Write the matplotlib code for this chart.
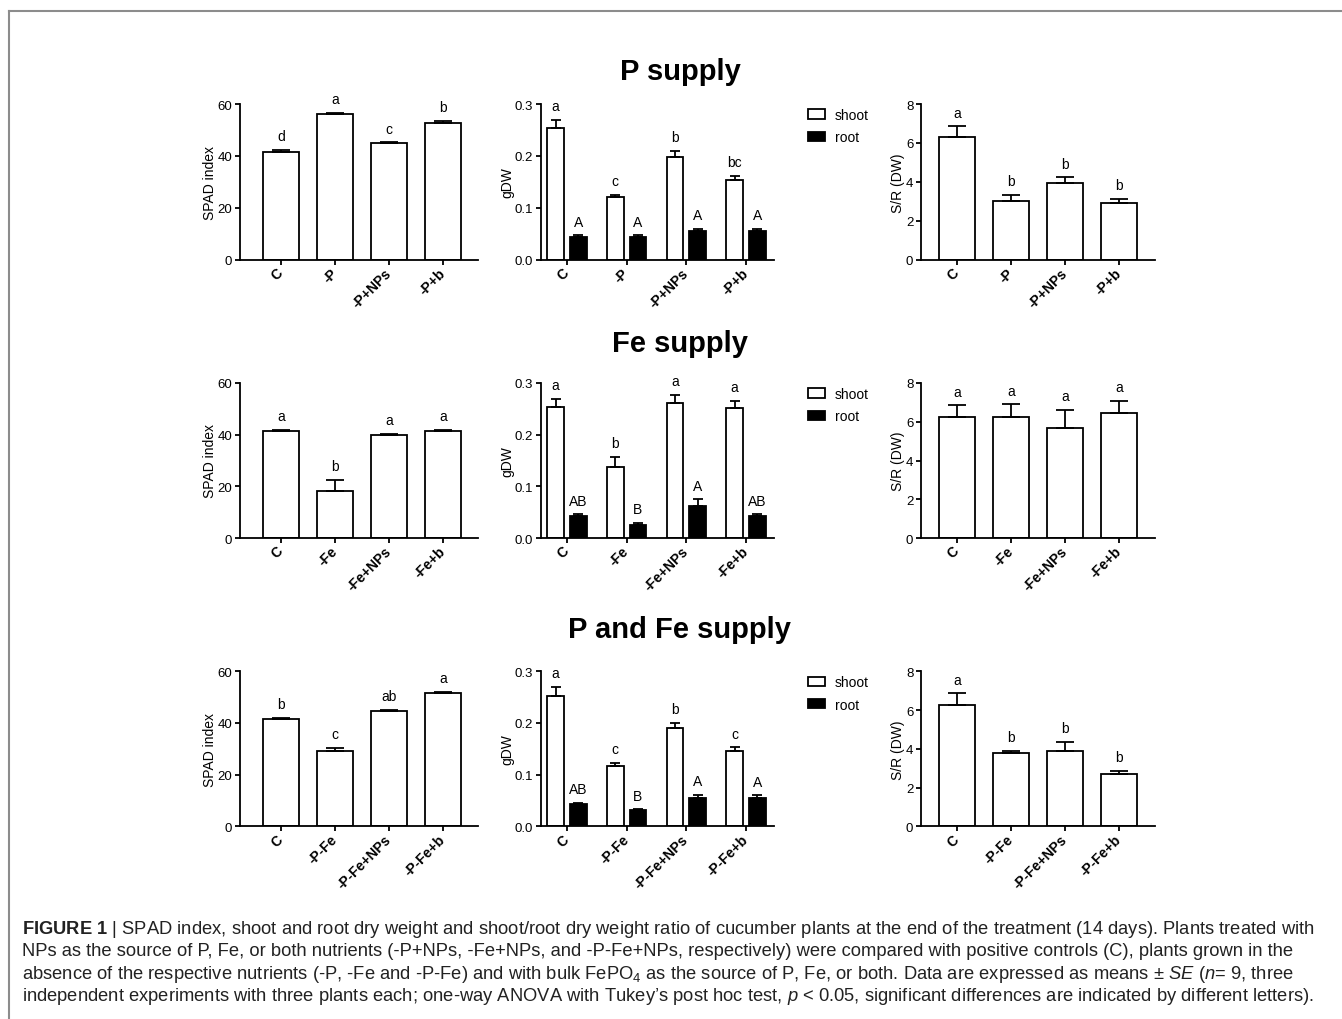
import numpy as np
import matplotlib
matplotlib.use('Agg')
import matplotlib.pyplot as plt
from matplotlib import font_manager
from matplotlib.lines import Line2D

# Treatments per row
labels_p = ['C', '-P', '-P+NPs', '-P+b']
labels_fe = ['C', '-Fe', '-Fe+NPs', '-Fe+b']
labels_pfe = ['C', '-P-Fe', '-P-Fe+NPs', '-P-Fe+b']

# SPAD index (mean, SE, letters)
spad_p = [41.6, 56.3, 44.9, 52.8]
spad_p_se = [0.6, 0.3, 0.3, 0.8]
spad_p_let = ['d', 'a', 'c', 'b']
spad_fe = [41.4, 18.3, 39.9, 41.4]
spad_fe_se = [0.5, 4.3, 0.5, 0.5]
spad_fe_let = ['a', 'b', 'a', 'a']
spad_pfe = [41.4, 29.0, 44.8, 51.6]
spad_pfe_se = [0.6, 1.4, 0.4, 0.4]
spad_pfe_let = ['b', 'c', 'ab', 'a']

# dry weight shoot / root (gDW)
shoot_p = [0.253, 0.120, 0.197, 0.154]
shoot_p_se = [0.017, 0.005, 0.013, 0.007]
root_p = [0.043, 0.043, 0.055, 0.055]
root_p_se = [0.004, 0.004, 0.005, 0.005]
shoot_p_let = ['a', 'c', 'b', 'bc']
root_p_let = ['A', 'A', 'A', 'A']

shoot_fe = [0.253, 0.137, 0.261, 0.252]
shoot_fe_se = [0.016, 0.020, 0.016, 0.013]
root_fe = [0.043, 0.026, 0.061, 0.043]
root_fe_se = [0.003, 0.004, 0.014, 0.003]
shoot_fe_let = ['a', 'b', 'a', 'a']
root_fe_let = ['AB', 'B', 'A', 'AB']

shoot_pfe = [0.253, 0.117, 0.190, 0.146]
shoot_pfe_se = [0.017, 0.006, 0.010, 0.007]
root_pfe = [0.043, 0.032, 0.055, 0.055]
root_pfe_se = [0.003, 0.001, 0.006, 0.005]
shoot_pfe_let = ['a', 'c', 'b', 'c']
root_pfe_let = ['AB', 'B', 'A', 'A']

# shoot/root ratio
sr_p = [6.29, 3.00, 3.93, 2.90]
sr_p_se = [0.56, 0.33, 0.30, 0.22]
sr_p_let = ['a', 'b', 'b', 'b']
sr_fe = [6.25, 6.25, 5.68, 6.45]
sr_fe_se = [0.60, 0.65, 0.92, 0.62]
sr_fe_let = ['a', 'a', 'a', 'a']
sr_pfe = [6.26, 3.77, 3.88, 2.70]
sr_pfe_se = [0.60, 0.11, 0.47, 0.15]
sr_pfe_let = ['a', 'b', 'b', 'b']

row_titles = ['P supply', 'Fe supply', 'P and Fe supply']

names = {f.name for f in font_manager.fontManager.ttflist}
cap_font = 'Liberation Sans Narrow' if 'Liberation Sans Narrow' in names else 'Liberation Sans'
cap_size = 12.3 if cap_font == 'Liberation Sans Narrow' else 13.2

plt.rcParams['font.family'] = 'Liberation Sans'
plt.rcParams['mathtext.fontset'] = 'custom'
plt.rcParams['mathtext.rm'] = cap_font
plt.rcParams['mathtext.it'] = cap_font + ':italic'
plt.rcParams['mathtext.bf'] = 'Liberation Sans:bold'

W, H = 1342, 1020
fig = plt.figure(figsize=(W / 100, H / 100), dpi=100)

LW = 1.3


def style_axes(ax, labels, ymax, yticks, ylabel):
    for s in ['top', 'right']:
        ax.spines[s].set_visible(False)
    for s in ['left', 'bottom']:
        ax.spines[s].set_linewidth(LW)
    ax.set_ylim(0, ymax)
    ax.set_yticks(yticks)
    ax.tick_params(direction='out', length=3.5, width=LW, labelsize=9.5, pad=2)
    ax.tick_params(axis='x', pad=4)
    ax.set_xticks(range(len(labels)))
    ax.set_xticklabels(labels, rotation=45, ha='right', va='center', rotation_mode='anchor',
                       fontweight='bold', fontsize=10)
    ax.set_ylabel(ylabel, fontsize=10, labelpad=0.5)


def add_letters(ax, x, vals, se, letters):
    for xi, v, e, t in zip(x, vals, se, letters):
        ax.annotate(t, (xi, v + e), xytext=(0, 7), textcoords='offset points',
                    ha='center', va='baseline', fontsize=10)


def single_panel(ax, labels, vals, se, letters, ymax, yticks, ylabel, xlim):
    x = np.arange(len(vals))
    ax.bar(x, vals, width=0.667, color='white', edgecolor='black', linewidth=LW, zorder=2)
    ax.errorbar(x, vals, yerr=[np.zeros(len(se)), se], fmt='none', ecolor='black',
                elinewidth=LW, capsize=6.5, capthick=LW, zorder=3)
    add_letters(ax, x, vals, se, letters)
    ax.set_xlim(*xlim)
    style_axes(ax, labels, ymax, yticks, ylabel)


def group_panel(ax, labels, shoot, shoot_se, root, root_se, s_let, r_let):
    x = np.arange(len(shoot))
    off = 0.19
    w = 0.277
    b1 = ax.bar(x - off, shoot, width=w, color='white', edgecolor='black', linewidth=LW, zorder=2)
    b2 = ax.bar(x + off, root, width=w, color='black', edgecolor='black', linewidth=LW, zorder=2)
    ax.errorbar(x - off, shoot, yerr=[np.zeros(len(shoot)), shoot_se], fmt='none',
                ecolor='black', elinewidth=LW, capsize=3.3, capthick=LW, zorder=3)
    ax.errorbar(x + off, root, yerr=[np.zeros(len(root)), root_se], fmt='none',
                ecolor='black', elinewidth=LW, capsize=3.3, capthick=LW, zorder=3)
    add_letters(ax, x - off, shoot, shoot_se, s_let)
    add_letters(ax, x + off, root, root_se, r_let)
    ax.set_xlim(-0.436, 3.47)
    style_axes(ax, labels, 0.3, [0.0, 0.1, 0.2, 0.3], 'gDW')
    ax.set_yticklabels(['0.0', '0.1', '0.2', '0.3'])
    ax.legend([b1, b2], ['shoot', 'root'], loc='upper left', bbox_to_anchor=(1.145, 0.975),
              frameon=False, fontsize=10, handlelength=1.25, handleheight=0.65,
              handletextpad=0.7, labelspacing=0.6, borderpad=0, borderaxespad=0)


rows = [
    (labels_p, spad_p, spad_p_se, spad_p_let, shoot_p, shoot_p_se, root_p, root_p_se,
     shoot_p_let, root_p_let, sr_p, sr_p_se, sr_p_let),
    (labels_fe, spad_fe, spad_fe_se, spad_fe_let, shoot_fe, shoot_fe_se, root_fe, root_fe_se,
     shoot_fe_let, root_fe_let, sr_fe, sr_fe_se, sr_fe_let),
    (labels_pfe, spad_pfe, spad_pfe_se, spad_pfe_let, shoot_pfe, shoot_pfe_se, root_pfe, root_pfe_se,
     shoot_pfe_let, root_pfe_let, sr_pfe, sr_pfe_se, sr_pfe_let),
]

# pixel geometry of the three rows (top of y axis, bottom of y axis) and title centres
row_px = [(105, 260.7), (384, 539), (672.3, 827.3)]
title_px = [72, 344, 630]
col_px = [(240, 478), (541, 774), (921, 1155)]

for i, r in enumerate(rows):
    (labels, spad, spad_se, spad_let, shoot, shoot_se, root, root_se,
     s_let, r_let, sr, sr_se, sr_let) = r
    top, bot = row_px[i]
    axes = []
    for (l, rr) in col_px:
        axes.append(fig.add_axes([l / W, 1 - bot / H, (rr - l) / W, (bot - top) / H]))
    single_panel(axes[0], labels, spad, spad_se, spad_let, 60, [0, 20, 40, 60], 'SPAD index',
                 (-0.76, 3.65))
    group_panel(axes[1], labels, shoot, shoot_se, root, root_se, s_let, r_let)
    single_panel(axes[2], labels, sr, sr_se, sr_let, 8, [0, 2, 4, 6, 8], 'S/R (DW)',
                 (-0.667, 3.667))
    fig.text(680 / W, 1 - title_px[i] / H, row_titles[i], ha='center', va='center',
             fontsize=21, fontweight='bold')

# frame around the figure
fig.add_artist(Line2D([9 / W, 1], [1 - 12 / H, 1 - 12 / H], transform=fig.transFigure,
                      color='#8c8c8c', lw=1.5))
fig.add_artist(Line2D([9 / W, 9 / W], [1 - 12 / H, 0], transform=fig.transFigure,
                      color='#8c8c8c', lw=1.5))

caption = [
    r"$\mathbf{FIGURE\ 1}$ | SPAD index, shoot and root dry weight and shoot/root dry weight ratio of cucumber plants at the end of the treatment (14 days). Plants treated with",
    "NPs as the source of P, Fe, or both nutrients (-P+NPs, -Fe+NPs, and -P-Fe+NPs, respectively) were compared with positive controls (C), plants grown in the",
    r"absence of the respective nutrients (-P, -Fe and -P-Fe) and with bulk FePO$_4$ as the source of P, Fe, or both. Data are expressed as means ± $\mathit{SE}$ ($\mathit{n}$= 9, three",
    r"independent experiments with three plants each; one-way ANOVA with Tukey’s post hoc test, $\mathit{p}$ < 0.05, significant differences are indicated by different letters).",
]
cap_y = [934, 956.5, 979, 1001.5]
for line, y in zip(caption, cap_y):
    fig.text(22 / W, 1 - y / H, line, ha='left', va='baseline', fontsize=cap_size,
             family=cap_font, color='#222222')

fig.savefig('out.png', dpi=100)
